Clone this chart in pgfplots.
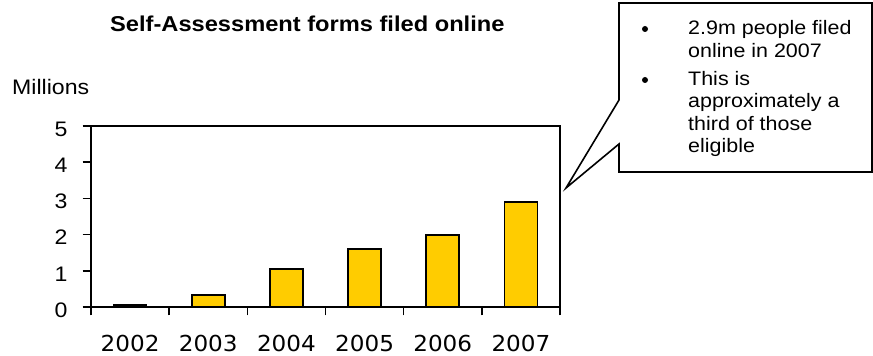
\documentclass[border=0pt]{standalone}
\usepackage{pgfplots}
\pgfplotsset{compat=1.18}
\usepackage{fontspec}
\setmainfont{Liberation Sans}[FakeStretch=1.1]
\newfontfamily\xfont{DejaVu Sans}[FakeStretch=1.05]
\definecolor{bargold}{RGB}{255,204,0}
\begin{document}
\begin{tikzpicture}[x=1pt,y=1pt]
\begin{axis}[
  at={(91pt,49pt)}, anchor=south west,
  scale only axis, width=469pt, height=181pt,
  xmin=-0.5, xmax=5.5, ymin=0, ymax=5,
  ybar, bar width=33pt,
  xtick={-0.5,0.5,1.5,2.5,3.5,4.5,5.5},
  x tick label as interval,
  xticklabels={2002,2003,2004,2005,2006,2007},
  ytick={0,1,2,3,4,5},
  yticklabels={0,1,2,3,4,5},
  tick align=outside,
  major tick length=8.5pt,
  xtick pos=bottom, ytick pos=left,
  axis line style={line width=1.6pt},
  every tick/.style={black, line width=1.6pt},
  x tick label style={font=\xfont\fontsize{22}{26}\selectfont, yshift=-16pt},
  y tick label style={font=\fontsize{21}{25}\selectfont, xshift=-11.5pt, yshift=-3pt},
  /pgf/number format/assume math mode=true,
]
\addplot[fill=bargold, draw=black, line width=1.6pt] coordinates {(0,0.06) (1,0.33) (2,1.05) (3,1.61) (4,1.99) (5,2.9)};
\end{axis}
\node[font=\bfseries\fontsize{21.5}{25}\selectfont, anchor=base west, inner sep=0pt] at (110,324) {Self-Assessment forms filed online};
\node[font=\fontsize{21}{25}\selectfont, anchor=base west, inner sep=0pt] at (12,261) {Millions};
\draw[line width=1.6pt, line join=miter] (619,353) -- (872,353) -- (872,184) -- (619,184) -- (619,212) -- (566,168) -- (619,256) -- cycle;
\fill (645,327) circle (3);
\fill (645,276) circle (3);
\begin{scope}[every node/.style={anchor=base west, inner sep=0pt, font=\fontsize{19.5}{23}\selectfont}]
\node at (688,321) {2.9m people filed};
\node at (688,298) {online in 2007};
\node at (688,270.5) {This is};
\node at (688,248) {approximately a};
\node at (688,225.5) {third of those};
\node at (688,203) {eligible};
\end{scope}
\pgfresetboundingbox
\useasboundingbox (0,0) rectangle (873,356);
\end{tikzpicture}
\end{document}
